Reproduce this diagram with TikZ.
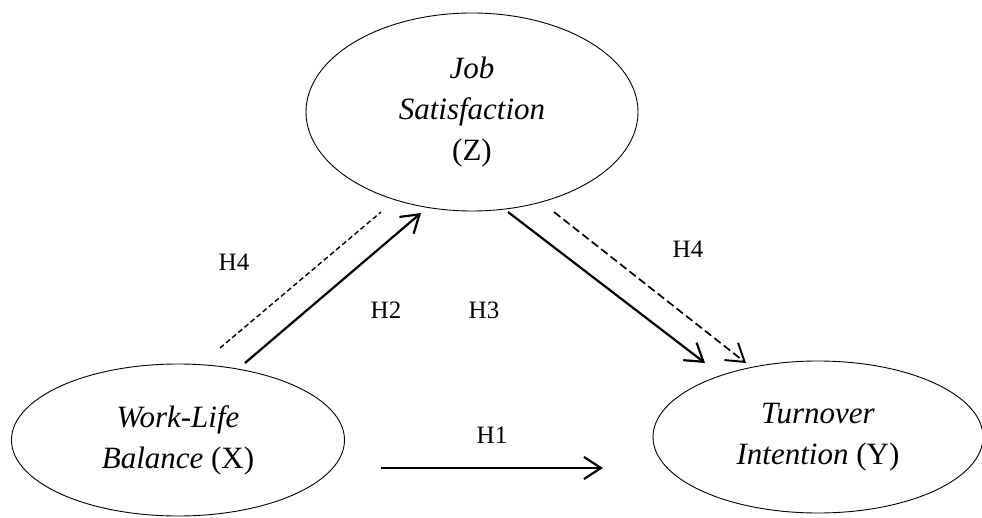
\documentclass[tikz,border=0pt]{standalone}
\usepackage{fontspec}
\setmainfont{Liberation Serif}
\usetikzlibrary{shapes.geometric,arrows.meta}
\begin{document}
\begin{tikzpicture}[x=1pt,y=-1pt,
  var/.style={draw,ellipse,line width=0.9pt,inner sep=0pt,align=center,
    font=\fontsize{31}{41}\selectfont},
  lab/.style={font=\fontsize{25}{29}\selectfont,inner sep=0pt},
  solidarrow/.style={line width=2.2pt,-{Straight Barb[length=17pt,width=22pt,line width=2.2pt]}},
  dasharrow/.style={line width=1.7pt,dash pattern=on 8pt off 4pt,
    -{Straight Barb[length=17pt,width=22pt,line width=1.9pt]}},
  dashline/.style={line width=1.4pt,dash pattern=on 5pt off 3pt}
]
\useasboundingbox (0,0) rectangle (982,518);
\node[var,minimum width=332pt,minimum height=198pt] (Z) at (472,112)
  {\textit{Job}\\\textit{Satisfaction}\\(Z)};
\node[var,minimum width=333pt,minimum height=152pt] (X) at (178,440)
  {\textit{Work-Life}\\\textit{Balance} (X)};
\node[var,minimum width=330pt,minimum height=152pt] (Y) at (818,437)
  {\textit{Turnover}\\\textit{Intention} (Y)};

\coordinate (a1) at (245,363);
\coordinate (a2) at (421,213);
\coordinate (d1) at (220,348);
\coordinate (d2) at (381,212);
\coordinate (b1) at (508,212);
\coordinate (b2) at (705,363);
\coordinate (e1) at (554,212);
\coordinate (e2) at (746,363);
\coordinate (c1) at (381,468);
\coordinate (c2) at (603,468);

\draw[solidarrow] (a1) -- (a2);
\draw[dashline] (d1) -- (d2);
\draw[solidarrow] (b1) -- (b2);
\draw[dasharrow] (e1) -- (e2);
\draw[solidarrow] (c1) -- (c2);

\node[lab] (h4a) at (234,262) {H4};
\node[lab] (h2) at (386,310) {H2};
\node[lab] (h3) at (484,310) {H3};
\node[lab] (h4b) at (688,249) {H4};
\node[lab] (h1) at (492,435) {H1};
\end{tikzpicture}
\end{document}
